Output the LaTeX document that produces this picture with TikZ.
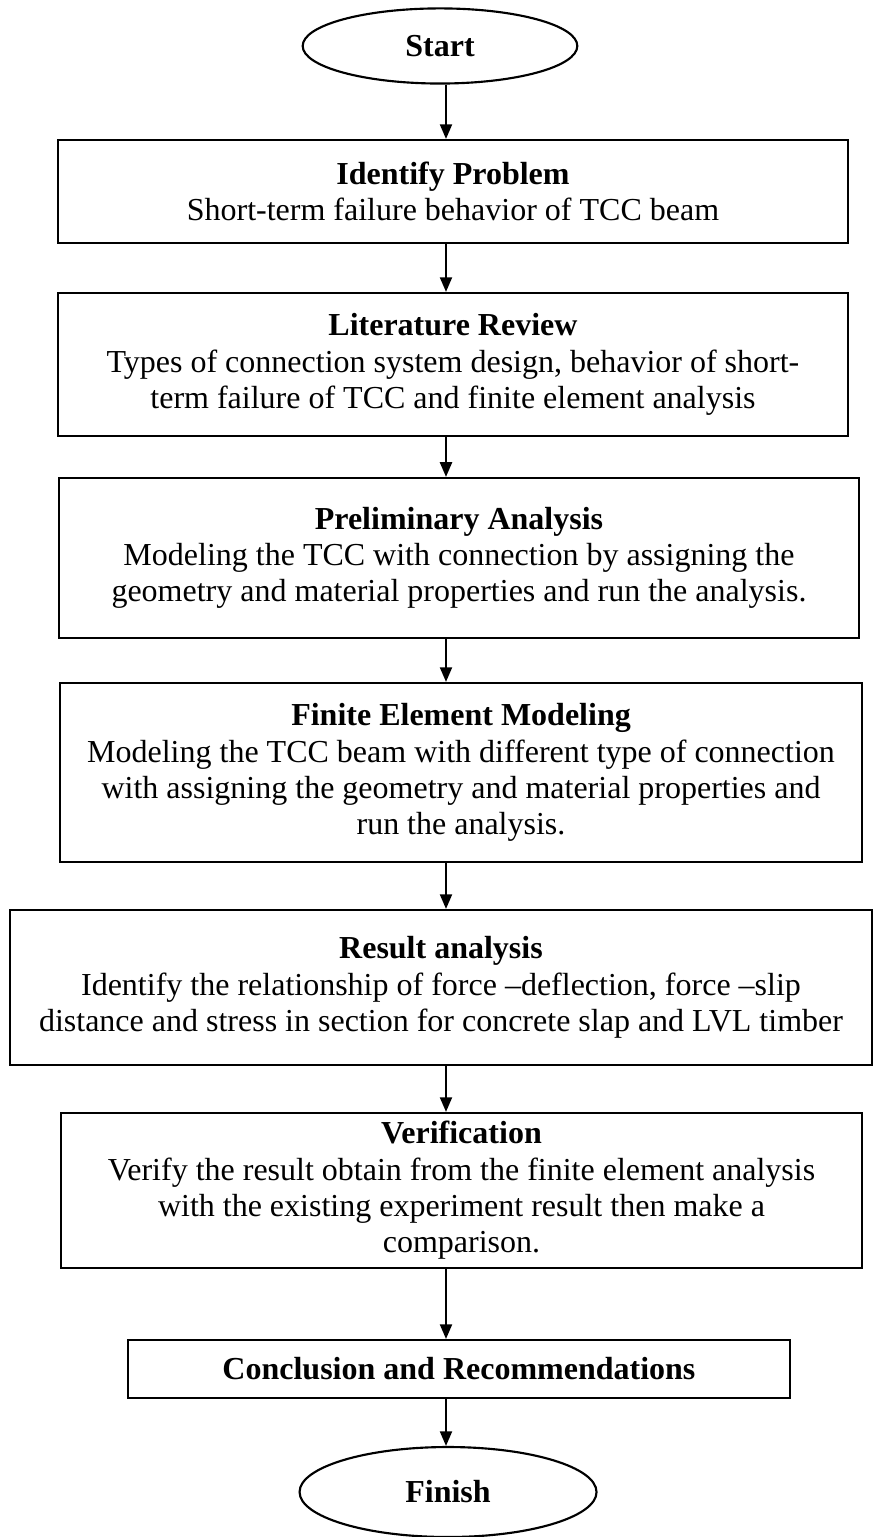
\documentclass[tikz,border=0pt,12pt]{standalone}
\usepackage{fontspec}
\setmainfont{Liberation Serif}
\usetikzlibrary{shapes.geometric,arrows.meta}

\begin{document}
\begin{tikzpicture}[line width=0.8pt,
  box node/.style={rectangle,draw,align=center,inner sep=2pt,font=\fontsize{12}{13.6}\selectfont},
  end node/.style={ellipse,draw,inner sep=0pt,font=\bfseries\fontsize{12}{13.6}\selectfont},
  arr/.style={-{Triangle[length=5.5pt,width=4.5pt]}}]

  \useasboundingbox (0,0) rectangle (11.519,-20.257);
  \coordinate (spine) at (5.878,0);

  \node[end node,minimum width=3.62cm,minimum height=0.99cm] (start) at (5.799,-0.606){Start};
  \node[box node,minimum width=10.41cm,minimum height=1.357cm] (ident) at (5.970,-2.524)
    {\textbf{Identify Problem}\\Short-term failure behavior of TCC beam};
  \node[box node,minimum width=10.41cm,minimum height=1.885cm] (lit) at (5.970,-4.804)
    {\textbf{Literature Review}\\Types of connection system design, behavior of short-\\term failure of TCC and finite element analysis};
  \node[box node,minimum width=10.54cm,minimum height=2.109cm] (prelim) at (6.049,-7.354)
    {\textbf{Preliminary Analysis}\\Modeling the TCC with connection by assigning the\\geometry and material properties and run the analysis.};
  \node[box node,minimum width=10.57cm,minimum height=2.359cm] (fem) at (6.076,-10.181)
    {\textbf{Finite Element Modeling}\\Modeling the TCC beam with different type of connection\\with assigning the geometry and material properties and\\run the analysis.};
  \node[box node,minimum width=11.36cm,minimum height=2.043cm] (result) at (5.812,-13.015)
    {\textbf{Result analysis}\\Identify the relationship of force --deflection, force --slip\\distance and stress in section for concrete slap and LVL timber};
  \node[box node,minimum width=10.557cm,minimum height=2.043cm] (verif) at (6.082,-15.690)
    {\textbf{Verification}\\Verify the result obtain from the finite element analysis\\with the existing experiment result then make a\\comparison.};
  \node[box node,minimum width=8.725cm,minimum height=0.764cm] (concl) at (6.049,-18.043)
    {\textbf{Conclusion and Recommendations}};
  \node[end node,minimum width=3.914cm,minimum height=1.186cm] (finish) at (5.905,-19.664){Finish};

  \path[arr]
     (start.south -| spine) edge (ident.north -| spine)
     (ident.south -| spine) edge (lit.north -| spine)
     (lit.south -| spine) edge (prelim.north -| spine)
     (prelim.south -| spine) edge (fem.north -| spine)
     (fem.south -| spine) edge (result.north -| spine)
     (result.south -| spine) edge (verif.north -| spine)
     (verif.south -| spine) edge (concl.north -| spine)
     (concl.south -| spine) edge (finish.north -| spine);
\end{tikzpicture}
\end{document}
